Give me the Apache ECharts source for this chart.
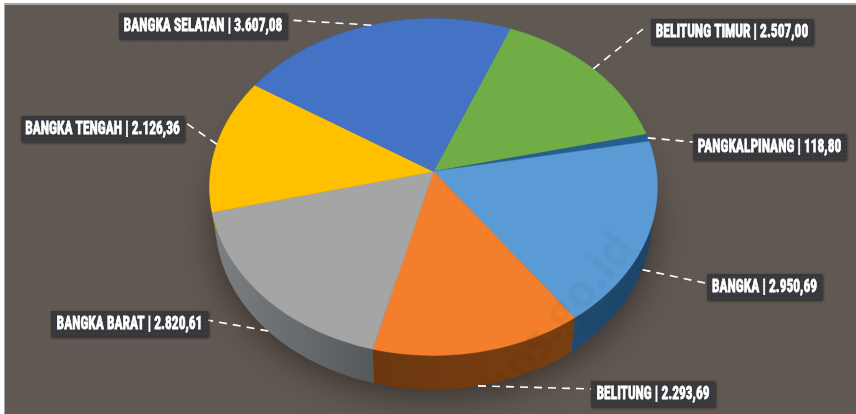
<!DOCTYPE html>
<html>
<head>
<meta charset="utf-8">
<style>html,body{margin:0;padding:0;background:#fff}#chart{width:856px;height:414px}</style>
<script src="https://cdn.jsdelivr.net/npm/echarts@6/dist/echarts.min.js"></script>
</head>
<body>
<div id="chart"></div>
<script>
// Regencies of Bangka Belitung, clockwise
const categories = ['BELITUNG TIMUR', 'PANGKALPINANG', 'BANGKA', 'BELITUNG', 'BANGKA BARAT', 'BANGKA TENGAH', 'BANGKA SELATAN'];
const values = [2507.00, 118.80, 2950.69, 2293.69, 2820.61, 2126.36, 3607.08];
const topColors = ['#70ad47', '#255e91', '#5b9bd5', '#f37f2d', '#a5a5a5', '#ffc000', '#4472c4'];
const wallColors = [
  ['#446a2b', '#3d5f26'], ['#163a5a', '#163a5a'], ['#204a70', '#1c4466'], ['#6c3710', '#7a3f0f'],
  ['#7d8082', '#55595c'], ['#9a7400', '#8a6800'], ['#2a4578', '#2a4578']
];
const labelBoxes = [
  [651, 19, 162, 26], [693, 134, 153, 26], [707, 274, 115, 26], [591, 381, 124, 26],
  [51, 311, 157, 26], [21, 116, 163, 26], [119, 13, 168, 26]
];
const leaderEnds = [[643, 29], [693, 142], [705, 283], [592, 389], [207, 320], [186, 123], [288, 20]];

const firstAngle = 21.9;
const total = values.reduce((a, b) => a + b, 0);
const spans = [];
values.reduce((acc, v) => { const s = v / total * 360; spans.push([acc, acc + s]); return acc + s; }, firstAngle);

// Tilted-disc projection: angle is clockwise from the far edge
const CX = 433.5, CY = 171.5, RX = 223, RY = 167, PERSP = 0.092, DEPTH = 34, SHRINK = 0.975;
function topPoint(deg) {
  const t = deg * Math.PI / 180, X = Math.sin(t), Y = -Math.cos(t), w = 1 - PERSP * Y;
  return [CX + RX * X / w, CY + RY * Y / w];
}
function basePoint(deg) {
  const p = topPoint(deg);
  return [CX + (p[0] - CX) * SHRINK, p[1] + DEPTH];
}
function arc(fn, a, b) {
  const pts = [], n = Math.max(2, Math.ceil(b - a));
  for (let i = 0; i <= n; i++) pts.push(fn(a + (b - a) * i / n));
  return pts;
}
function formatValue(v) {
  const [i, d] = v.toFixed(2).split('.');
  return i.replace(/\B(?=(\d{3})+$)/g, '.') + ',' + d;
}

// Dotted fill used behind the labels
const tile = document.createElement('canvas');
tile.width = 4; tile.height = 4;
const tc = tile.getContext('2d');
tc.fillStyle = '#38383c'; tc.fillRect(0, 0, 4, 4);
tc.fillStyle = '#4c4c50'; tc.fillRect(1, 1, 1, 1);

// Fine weave of the backdrop
const weave = document.createElement('canvas');
weave.width = 3; weave.height = 3;
const wc = weave.getContext('2d');
wc.fillStyle = '#605852'; wc.fillRect(0, 0, 3, 3);
wc.fillStyle = '#625a54'; wc.fillRect(1, 1, 1, 1);

const rows = values.map((v, i) => [v, i]);
const chart = echarts.init(document.getElementById('chart'), null, { renderer: 'canvas' });

chart.setOption({
  animation: false,
  backgroundColor: '#ffffff',
  graphic: [
    { type: 'rect', z: 0, shape: { x: 4, y: 3, width: 852, height: 411 }, style: { fill: '#a9a5a1' } },
    { type: 'rect', z: 0, shape: { x: 5, y: 5, width: 851, height: 409 }, style: { fill: { image: weave, repeat: 'repeat' } } },
    {
      type: 'polygon', z: 1,
      shape: { points: arc(basePoint, 0, 360) },
      style: { fill: '#4f4740', shadowBlur: 34, shadowColor: 'rgba(38,30,24,0.7)', shadowOffsetX: 0, shadowOffsetY: 6 }
    },
    {
      type: 'text', z: 8, x: 512, y: 412, rotation: 50 * Math.PI / 180,
      style: { text: 'bps.go.id', font: 'bold 46px "Open Sans", sans-serif', fill: 'rgba(40,32,26,0.05)', textVerticalAlign: 'bottom' }
    }
  ],
  series: [
    {
      // Side walls of the disc
      type: 'custom', coordinateSystem: 'none', z: 3, silent: true, data: rows,
      renderItem(params, api) {
        const i = api.value(1), [a, b] = spans[i], c = wallColors[i];
        return {
          type: 'polygon',
          shape: { points: arc(topPoint, a, b).concat(arc(basePoint, a, b).reverse()) },
          style: { fill: new echarts.graphic.LinearGradient(0, 0, 1, 0, [{ offset: 0, color: c[0] }, { offset: 1, color: c[1] }]) }
        };
      }
    },
    {
      // Top face of the disc
      type: 'custom', coordinateSystem: 'none', z: 4, silent: true, data: rows,
      renderItem(params, api) {
        const i = api.value(1), [a, b] = spans[i];
        return {
          type: 'polygon',
          shape: { points: [[CX, CY]].concat(arc(topPoint, a, b)) },
          style: { fill: topColors[i], stroke: topColors[i], lineWidth: 0.5 }
        };
      }
    },
    {
      // Dashed leaders and label plates
      type: 'custom', coordinateSystem: 'none', z: 6, silent: true, data: rows,
      renderItem(params, api) {
        const i = api.value(1), [a, b] = spans[i], mid = (a + b) / 2;
        const onFront = ['BANGKA', 'BELITUNG', 'BANGKA BARAT'].includes(categories[i]);
        const start = onFront ? basePoint(mid) : topPoint(mid);
        const end = leaderEnds[i], box = labelBoxes[i];
        return {
          type: 'group',
          children: [
            {
              type: 'line',
              shape: { x1: start[0], y1: start[1], x2: end[0], y2: end[1] },
              style: { stroke: '#ffffff', lineWidth: 1.6, lineDash: [8, 6] }
            },
            {
              type: 'rect',
              shape: { x: box[0], y: box[1], width: box[2], height: box[3] },
              style: { fill: { image: tile, repeat: 'repeat' }, shadowBlur: 3, shadowColor: 'rgba(20,15,10,0.7)', shadowOffsetX: 1, shadowOffsetY: 1 }
            },
            {
              type: 'text',
              x: box[0] + box[2] / 2, y: box[1] + box[3] / 2,
              scaleX: 0.71,
              style: {
                text: categories[i] + ' | ' + formatValue(values[i]),
                font: 'bold 19px "Liberation Sans Narrow", "Roboto Condensed", Roboto, sans-serif',
                fill: '#ffffff', stroke: '#ffffff', lineWidth: 0.8,
                textAlign: 'center', textVerticalAlign: 'middle'
              }
            }
          ]
        };
      }
    }
  ]
});
</script>
</body>
</html>
